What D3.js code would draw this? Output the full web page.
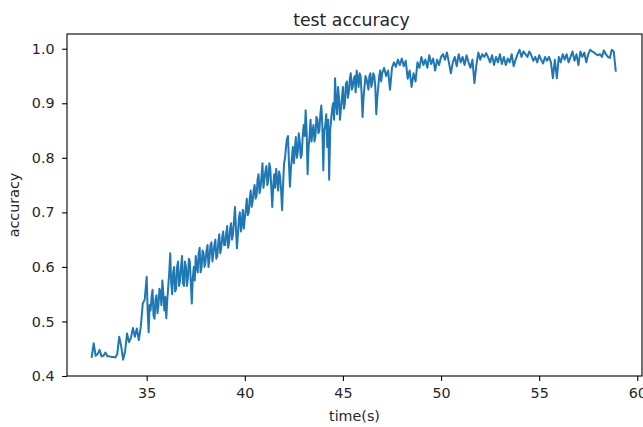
<!DOCTYPE html>
<html>
<head>
<meta charset="utf-8">
<script src="https://cdn.jsdelivr.net/npm/d3@7"></script>
<style>
  html, body { margin: 0; padding: 0; background: #fff; }
  svg { display: block; font-family: "DejaVu Sans", sans-serif; }
</style>
</head>
<body>
<svg id="chart" width="643" height="427"></svg>
<script>
// ---- data ----
const times = [
  32.2,32.3,32.4,32.5,32.6,32.7,32.8,32.9,33.0,33.1,
  33.2,33.3,33.4,33.5,33.6,33.7,33.8,33.9,34.0,34.1,
  34.2,34.3,34.4,34.5,34.6,34.7,34.8,34.9,
  35.00,35.05,35.10,35.15,35.20,35.25,35.30,35.35,35.40,35.45,35.50,35.55,35.60,35.65,35.70,35.75,35.80,35.85,35.90,35.95,
  36.00,36.05,36.10,36.15,36.20,36.25,36.30,36.35,36.40,36.45,36.50,36.55,36.60,36.65,36.70,36.75,36.80,36.85,36.90,36.95,
  37.00,37.05,37.10,37.15,37.20,37.25,37.30,37.35,37.40,37.45,37.50,37.55,37.60,37.65,37.70,37.75,37.80,37.85,37.90,37.95,
  38.00,38.05,38.10,38.15,38.20,38.25,38.30,38.35,38.40,38.45,38.50,38.55,38.60,38.65,38.70,38.75,38.80,38.85,38.90,38.95,
  39.00,39.05,39.10,39.15,39.20,39.25,39.30,39.35,39.40,39.45,39.50,39.55,39.60,39.65,39.70,39.75,39.80,39.85,39.90,39.95,
  40.00,40.05,40.10,40.15,40.20,40.25,40.30,40.35,40.40,40.45,40.50,40.55,40.60,40.65,40.70,40.75,40.80,40.85,40.90,40.95,
  41.00,41.05,41.10,41.15,41.20,41.25,41.30,41.35,41.40,41.45,41.50,41.55,41.60,41.65,41.70,41.75,41.80,41.85,41.90,41.95,
  42.00,42.05,42.10,42.15,42.20,42.25,42.30,42.35,42.40,42.45,42.50,42.55,42.60,42.65,42.70,42.75,42.80,42.85,42.90,42.95,
  43.00,43.05,43.10,43.15,43.20,43.25,43.30,43.35,43.40,43.45,43.50,43.55,43.60,43.65,43.70,43.75,43.80,43.85,43.90,43.95,
  44.00,44.05,44.10,44.15,44.20,44.25,44.30,44.35,44.40,44.45,44.50,44.55,44.60,44.65,44.70,44.75,44.80,44.85,44.90,44.95,
  45.00,45.05,45.10,45.15,45.20,45.25,45.30,45.35,45.40,45.45,45.50,45.55,45.60,45.65,45.70,45.75,45.80,45.85,45.90,45.95,
  46.00,46.05,46.10,46.15,46.20,46.25,46.30,46.35,46.40,46.45,46.50,46.55,46.60,46.65,46.70,46.75,46.80,46.85,46.90,46.95,
  47.0,47.1,47.2,47.3,47.4,47.5,47.6,47.7,47.8,47.9,
  48.0,48.1,48.2,48.3,48.4,48.5,48.6,48.7,48.8,48.9,
  49.0,49.1,49.2,49.3,49.4,49.5,49.6,49.7,49.8,49.9,
  50.0,50.1,50.2,50.3,50.4,50.5,50.6,50.7,50.8,50.9,
  51.0,51.1,51.2,51.3,51.4,51.5,51.6,51.7,51.8,51.9,
  52.0,52.1,52.2,52.3,52.4,52.5,52.6,52.7,52.8,52.9,
  53.0,53.1,53.2,53.3,53.4,53.5,53.6,53.7,53.8,53.9,
  54.0,54.1,54.2,54.3,54.4,54.5,54.6,54.7,54.8,54.9,
  55.0,55.1,55.2,55.3,55.4,55.5,55.6,55.7,55.8,55.9,
  56.0,56.1,56.2,56.3,56.4,56.5,56.6,56.7,56.8,56.9,
  57.0,57.1,57.2,57.3,57.4,57.5,57.6,57.7,57.8,57.9,
  58.0,58.1,58.2,58.3,58.4,58.5,58.6,58.7,58.8,58.9
];
const accuracy = [
  0.435,0.460,0.437,0.440,0.448,0.436,0.437,0.443,0.436,0.436,
  0.435,0.435,0.434,0.440,0.472,0.455,0.430,0.445,0.478,0.462,
  0.470,0.488,0.472,0.487,0.466,0.490,0.533,0.540,
  0.582,0.520,0.480,0.530,0.520,0.545,0.558,0.510,0.505,0.540,0.548,0.515,0.530,0.560,0.555,0.530,0.575,0.550,0.520,0.545,
  0.506,0.540,0.565,0.590,0.625,0.570,0.550,0.590,0.600,0.555,0.560,0.600,0.610,0.565,0.575,0.600,0.620,0.570,0.565,0.610,
  0.600,0.565,0.580,0.615,0.610,0.570,0.533,0.580,0.600,0.575,0.620,0.600,0.590,0.625,0.635,0.590,0.600,0.630,0.625,0.600,
  0.610,0.630,0.640,0.600,0.615,0.640,0.645,0.610,0.625,0.640,0.650,0.615,0.620,0.645,0.660,0.625,0.635,0.655,0.665,0.640,
  0.640,0.660,0.675,0.635,0.645,0.670,0.680,0.650,0.660,0.685,0.710,0.670,0.634,0.660,0.690,0.700,0.665,0.680,0.705,0.670,
  0.690,0.705,0.725,0.695,0.700,0.725,0.740,0.710,0.720,0.740,0.750,0.725,0.730,0.760,0.770,0.735,0.745,0.765,0.790,0.745,
  0.760,0.775,0.785,0.750,0.760,0.790,0.780,0.745,0.710,0.750,0.770,0.745,0.780,0.760,0.740,0.775,0.765,0.740,0.704,0.750,
  0.790,0.800,0.820,0.835,0.840,0.790,0.747,0.780,0.800,0.820,0.790,0.815,0.838,0.800,0.810,0.845,0.830,0.800,0.805,0.840,
  0.860,0.840,0.887,0.850,0.770,0.820,0.840,0.870,0.830,0.850,0.860,0.830,0.840,0.875,0.870,0.845,0.850,0.880,0.896,0.860,
  0.777,0.850,0.860,0.880,0.820,0.870,0.760,0.850,0.870,0.890,0.900,0.870,0.946,0.900,0.880,0.930,0.910,0.870,0.890,0.910,
  0.930,0.890,0.900,0.935,0.940,0.910,0.920,0.945,0.955,0.925,0.930,0.945,0.950,0.920,0.960,0.945,0.930,0.955,0.950,0.920,
  0.875,0.910,0.930,0.950,0.945,0.935,0.925,0.950,0.955,0.930,0.940,0.955,0.950,0.930,0.880,0.910,0.930,0.950,0.960,0.940,
  0.955,0.965,0.950,0.960,0.925,0.965,0.975,0.967,0.980,0.970,
  0.982,0.968,0.978,0.945,0.960,0.930,0.955,0.940,0.975,0.965,
  0.985,0.970,0.980,0.965,0.988,0.972,0.982,0.960,0.980,0.970,
  0.985,0.990,0.980,0.993,0.975,0.955,0.975,0.985,0.968,0.990,
  0.975,0.985,0.970,0.988,0.975,0.965,0.980,0.937,0.970,0.993,
  0.980,0.990,0.985,0.992,0.984,0.975,0.988,0.970,0.985,0.975,
  0.990,0.972,0.985,0.970,0.982,0.975,0.990,0.968,0.980,0.990,
  0.998,0.985,0.995,0.990,0.985,0.995,0.988,0.978,0.985,0.975,
  0.988,0.980,0.973,0.985,0.978,0.985,0.975,0.946,0.980,0.946,
  0.985,0.975,0.990,0.980,0.990,0.975,0.985,0.995,0.978,0.990,
  0.970,0.995,0.985,0.993,0.975,0.990,0.998,0.995,0.993,0.990,
  0.988,0.990,0.985,0.997,0.990,0.985,0.983,0.998,0.995,0.960
];
const xTickValues = [35, 40, 45, 50, 55, 60];
const yTickValues = [0.4, 0.5, 0.6, 0.7, 0.8, 0.9, 1.0];
const xDomain = [30.94, 60.24];
const yDomain = [0.4, 1.027];
const titleText = "test accuracy";
const xLabelText = "time(s)";
const yLabelText = "accuracy";

// ---- layout ----
const svg = d3.select("#chart");
const plot = { left: 67, right: 642, top: 34, bottom: 376 };

const x = d3.scaleLinear().domain(xDomain).range([plot.left, plot.right]);
const y = d3.scaleLinear().domain(yDomain).range([plot.bottom, plot.top]);

const points = times.slice(0, Math.min(times.length, accuracy.length))
  .map((t, i) => ({ t, v: accuracy[i] }));

// line
const line = d3.line().x(d => x(d.t)).y(d => y(d.v));
svg.append("path")
  .datum(points)
  .attr("fill", "none")
  .attr("stroke", "#1f77b4")
  .attr("stroke-width", 2.0)
  .attr("stroke-linejoin", "round")
  .attr("stroke-linecap", "square")
  .attr("d", line);

// axes
const xAxis = d3.axisBottom(x).tickValues(xTickValues).tickFormat(d3.format("d"))
  .tickSize(4.9).tickPadding(6.5).tickSizeOuter(0);
const yAxis = d3.axisLeft(y).tickValues(yTickValues).tickFormat(d3.format(".1f"))
  .tickSize(4.9).tickPadding(7.5).tickSizeOuter(0);

const gx = svg.append("g").attr("transform", `translate(0,${plot.bottom})`).call(xAxis);
const gy = svg.append("g").attr("transform", `translate(${plot.left},0)`).call(yAxis);
[gx, gy].forEach(g => {
  g.select(".domain").remove();
  g.selectAll(".tick line").attr("stroke", "#000").attr("stroke-width", 1.1);
  g.selectAll(".tick text").attr("fill", "#262626")
    .style("font-family", "'DejaVu Sans', sans-serif").style("font-size", "14.3px");
});

// spines
svg.append("rect")
  .attr("x", plot.left).attr("y", plot.top)
  .attr("width", plot.right - plot.left).attr("height", plot.bottom - plot.top)
  .attr("fill", "none").attr("stroke", "#000").attr("stroke-width", 1.1);

// title and labels
svg.append("text")
  .attr("x", (plot.left + plot.right) / 2 - 3).attr("y", 25.5)
  .attr("text-anchor", "middle").attr("fill", "#262626")
  .style("font-size", "17.3px")
  .text(titleText);

svg.append("text")
  .attr("x", (plot.left + plot.right) / 2).attr("y", 421)
  .attr("text-anchor", "middle").attr("fill", "#262626")
  .style("font-size", "14.3px")
  .text(xLabelText);

svg.append("text")
  .attr("transform", `translate(19,${(plot.top + plot.bottom) / 2}) rotate(-90)`)
  .attr("text-anchor", "middle").attr("fill", "#262626")
  .style("font-size", "14.3px")
  .text(yLabelText);
</script>
</body>
</html>
